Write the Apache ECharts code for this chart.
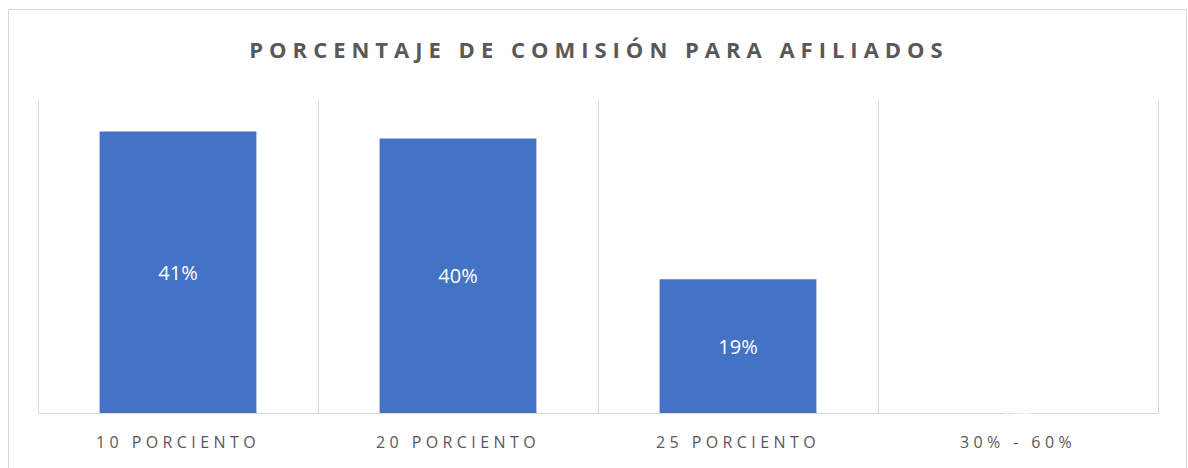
<!DOCTYPE html>
<html>
<head>
<meta charset="utf-8">
<script src="https://cdn.jsdelivr.net/npm/echarts@6/dist/echarts.min.js"></script>
<style>
  html, body { margin: 0; padding: 0; background: #fff; }
  #chart { width: 1188px; height: 468px; }
</style>
</head>
<body>
<div id="chart"></div>
<script>
const categories = ["10 PORCIENTO", "20 PORCIENTO", "25 PORCIENTO", "30% - 60%"];
// bar heights; labels show them rounded
const values = [40.6, 39.6, 19.3, 0];
const titleText = "PORCENTAJE DE COMISIÓN PARA AFILIADOS";

const chart = echarts.init(document.getElementById("chart"), null, { renderer: "svg" });
chart.setOption({
  animation: false,
  textStyle: { fontFamily: "Open Sans" },
  title: {
    text: titleText,
    left: 594,
    textAlign: "center",
    top: 33,
    textStyle: { fontFamily: "Open Sans", fontSize: 22, fontWeight: "bold", color: "#595959" },
  },
  graphic: [
    {
      type: "rect",
      shape: { x: 8.5, y: 9.5, width: 1178, height: 470 },
      style: { fill: "none", stroke: "#d9d9d9", lineWidth: 1 },
      silent: true,
    },
  ],
  grid: { left: 38, right: 30, top: 101, bottom: 55 },
  xAxis: {
    type: "category",
    data: categories,
    axisTick: { show: false },
    axisLine: { lineStyle: { color: "#d9d9d9", width: 1 } },
    splitLine: { show: true, lineStyle: { color: "#d9d9d9", width: 1 } },
    axisLabel: { fontFamily: "Open Sans", fontSize: 16, color: "#595959", margin: 21 },
  },
  yAxis: {
    type: "value",
    min: 0,
    max: 45,
    show: false,
    splitLine: { show: false },
  },
  series: [
    {
      type: "bar",
      data: values,
      barWidth: "56%",
      itemStyle: { color: "#4472c4" },
      label: {
        show: true,
        position: "inside",
        formatter: (p) => Math.round(p.value) + "%",
        fontFamily: "Open Sans",
        fontSize: 20,
        color: "#ffffff",
      },
    },
  ],
});

// Excel-style letter spacing on title and category labels
document.querySelectorAll("#chart svg text").forEach((t) => {
  const s = t.textContent;
  if (s === titleText) t.style.letterSpacing = "6px";
  else if (categories.includes(s)) t.style.letterSpacing = "4.4px";
});
</script>
</body>
</html>
